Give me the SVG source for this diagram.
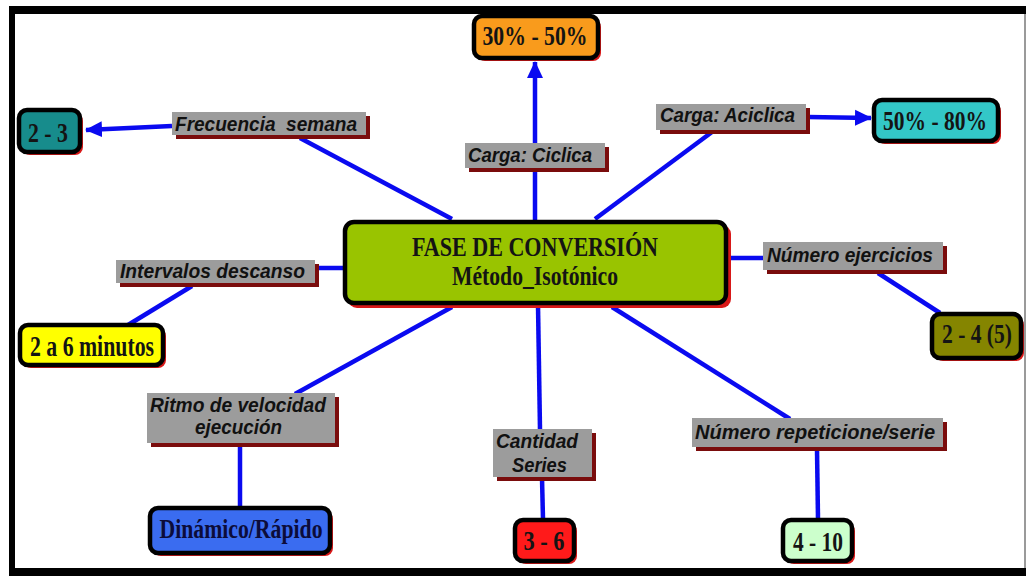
<svg xmlns="http://www.w3.org/2000/svg" width="1029" height="576" viewBox="0 0 1029 576">
<style>
.conn line{stroke:#0a0af0;stroke-width:4.5;stroke-linecap:butt}
.box{stroke:#000;stroke-width:4.5}
.bsh{fill:#d81818}
.lbl{fill:#9c9c9c}
.lsh{fill:#7a0c0c}
.bt{font-family:"Liberation Serif","Times New Roman",serif;font-weight:bold;fill:#141414;text-anchor:middle}
.lt{font-family:"Liberation Sans",Arial,sans-serif;font-weight:bold;font-style:italic;fill:#111;font-size:20px;white-space:pre}
</style>
<defs>
<marker id="ah" markerUnits="userSpaceOnUse" markerWidth="18" markerHeight="18" viewBox="0 0 18 18" refX="16" refY="9" orient="auto">
<path d="M0,1 L17,9 L0,17 Z" fill="#0a0af0"/>
</marker>
</defs>
<rect x="0" y="0" width="1029" height="576" fill="#fff"/>
<rect x="9" y="6" width="1017" height="570" fill="#000"/>
<rect x="15" y="14" width="1009" height="554" fill="#fff"/>
<rect x="1024" y="14" width="2" height="554" fill="#9a9a9a"/>
<rect x="1026" y="6" width="3" height="570" fill="#fff"/>

<g class="conn" id="connectors">
<line x1="172" y1="126" x2="86" y2="130" marker-end="url(#ah)"/>
<line x1="300" y1="138" x2="452" y2="219"/>
<line x1="535" y1="143" x2="535" y2="62" marker-end="url(#ah)"/>
<line x1="535" y1="220" x2="535" y2="170"/>
<line x1="595" y1="219" x2="712" y2="132"/>
<line x1="808" y1="117" x2="871" y2="118" marker-end="url(#ah)"/>
<line x1="728" y1="258" x2="763" y2="258"/>
<line x1="878" y1="273" x2="940" y2="313"/>
<line x1="316" y1="268" x2="343" y2="268"/>
<line x1="192" y1="286" x2="128" y2="325"/>
<line x1="452" y1="307" x2="295" y2="394"/>
<line x1="240" y1="446" x2="240" y2="507"/>
<line x1="538" y1="305" x2="540" y2="430"/>
<line x1="542" y1="478" x2="543" y2="519"/>
<line x1="612" y1="307" x2="790" y2="419"/>
<line x1="817" y1="449" x2="818" y2="519"/>
</g>

<g id="center">
<rect class="bsh" x="348" y="225" width="383" height="83" rx="9"/>
<rect class="box" x="345" y="222" width="381" height="81" rx="9" fill="#99c400"/>
<text class="bt" x="535" y="256" font-size="28" textLength="246" lengthAdjust="spacingAndGlyphs">FASE DE CONVERSIÓN</text>
<text class="bt" x="535" y="285" font-size="27" textLength="166" lengthAdjust="spacingAndGlyphs">Método_Isotónico</text>
</g>

<g id="lbl-frecuencia">
<rect class="lsh" x="176" y="116" width="194" height="23"/>
<rect class="lbl" x="172" y="112" width="194" height="23"/>
<text class="lt" x="175" y="131" textLength="182" lengthAdjust="spacingAndGlyphs">Frecuencia  semana</text>
</g>
<g id="n-2-3">
<rect class="bsh" x="22" y="113" width="61" height="42" rx="8"/>
<rect class="box" x="19" y="110" width="61" height="42" rx="8" fill="#178c8c"/>
<text class="bt" x="48" y="142" font-size="27" textLength="40" lengthAdjust="spacingAndGlyphs">2 - 3</text>
</g>

<g id="lbl-ciclica">
<rect class="lsh" x="469" y="147" width="140" height="25"/>
<rect class="lbl" x="465" y="143" width="140" height="25"/>
<text class="lt" x="468" y="162" textLength="124" lengthAdjust="spacingAndGlyphs">Carga: Ciclica</text>
</g>
<g id="n-30-50">
<rect class="bsh" x="477" y="19" width="124" height="42" rx="8"/>
<rect class="box" x="474" y="16" width="124" height="42" rx="8" fill="#f99b1c"/>
<text class="bt" x="535" y="45" font-size="27" textLength="105" lengthAdjust="spacingAndGlyphs">30% - 50%</text>
</g>

<g id="lbl-aciclica">
<rect class="lsh" x="660" y="108" width="150" height="26"/>
<rect class="lbl" x="656" y="104" width="150" height="26"/>
<text class="lt" x="660" y="122" textLength="135" lengthAdjust="spacingAndGlyphs">Carga: Aciclica</text>
</g>
<g id="n-50-80">
<rect class="bsh" x="877" y="103" width="124" height="41" rx="8"/>
<rect class="box" x="874" y="100" width="124" height="41" rx="8" fill="#33c7c7"/>
<text class="bt" x="935" y="130" font-size="27" textLength="104" lengthAdjust="spacingAndGlyphs">50% - 80%</text>
</g>

<g id="lbl-ejercicios">
<rect class="lsh" x="767" y="246" width="180" height="28"/>
<rect class="lbl" x="763" y="242" width="180" height="28"/>
<text class="lt" x="767" y="262" textLength="166" lengthAdjust="spacingAndGlyphs">Número ejercicios</text>
</g>
<g id="n-2-4-5">
<rect class="bsh" x="935" y="317" width="89" height="44" rx="8"/>
<rect class="box" x="932" y="314" width="89" height="44" rx="8" fill="#858500"/>
<text class="bt" x="977" y="343" font-size="27" textLength="70" lengthAdjust="spacingAndGlyphs">2 - 4 (5)</text>
</g>

<g id="lbl-intervalos">
<rect class="lsh" x="120" y="264" width="199" height="23"/>
<rect class="lbl" x="116" y="260" width="199" height="23"/>
<text class="lt" x="120" y="278" textLength="185" lengthAdjust="spacingAndGlyphs">Intervalos descanso</text>
</g>
<g id="n-2a6">
<rect class="bsh" x="23" y="328" width="143" height="40" rx="8"/>
<rect class="box" x="20" y="325" width="143" height="40" rx="8" fill="#ffff00"/>
<text class="bt" x="92" y="356" font-size="29" textLength="124" lengthAdjust="spacingAndGlyphs">2 a 6 minutos</text>
</g>

<g id="lbl-ritmo">
<rect class="lsh" x="151" y="397" width="188" height="50"/>
<rect class="lbl" x="147" y="393" width="188" height="50"/>
<text class="lt" x="150" y="412" textLength="176" lengthAdjust="spacingAndGlyphs">Ritmo de velocidad</text>
<text class="lt" x="195" y="434" textLength="87" lengthAdjust="spacingAndGlyphs">ejecución</text>
</g>
<g id="n-dinamico">
<rect class="bsh" x="153" y="511" width="180" height="45" rx="8"/>
<rect class="box" x="150" y="508" width="180" height="45" rx="8" fill="#3a6cf0"/>
<text class="bt" x="241" y="538" font-size="27" textLength="163" lengthAdjust="spacingAndGlyphs" style="fill:#0c0c3a">Dinámico/Rápido</text>
</g>

<g id="lbl-cantidad">
<rect class="lsh" x="497" y="433" width="99" height="48"/>
<rect class="lbl" x="493" y="429" width="99" height="48"/>
<text class="lt" x="496" y="448" textLength="82" lengthAdjust="spacingAndGlyphs">Cantidad</text>
<text class="lt" x="512" y="472" textLength="55" lengthAdjust="spacingAndGlyphs">Series</text>
</g>
<g id="n-3-6">
<rect class="bsh" x="518" y="523" width="59" height="41" rx="8"/>
<rect class="box" x="515" y="520" width="59" height="41" rx="8" fill="#ff1a1a"/>
<text class="bt" x="544" y="550" font-size="27" textLength="41" lengthAdjust="spacingAndGlyphs">3 - 6</text>
</g>

<g id="lbl-repeticiones">
<rect class="lsh" x="696" y="422" width="251" height="29"/>
<rect class="lbl" x="692" y="418" width="251" height="29"/>
<text class="lt" x="695" y="439" textLength="240" lengthAdjust="spacingAndGlyphs">Número repeticione/serie</text>
</g>
<g id="n-4-10">
<rect class="bsh" x="786" y="523" width="69" height="41" rx="8"/>
<rect class="box" x="783" y="520" width="69" height="41" rx="8" fill="#ccffcc"/>
<text class="bt" x="818" y="551" font-size="27" textLength="50" lengthAdjust="spacingAndGlyphs">4 - 10</text>
</g>
</svg>
